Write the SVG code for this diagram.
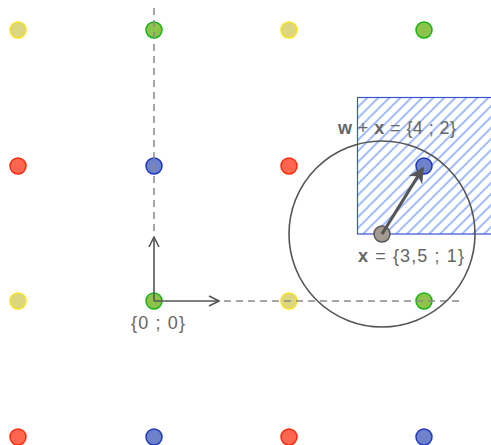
<svg xmlns="http://www.w3.org/2000/svg" width="491" height="445" viewBox="0 0 491 445">
<style>
.y{fill:#dcd681;stroke:#f7e21e;stroke-width:1.5}
.g{fill:#8ec24a;stroke:#14b414;stroke-width:1.5}
.r{fill:#ff6650;stroke:#ff2a0a;stroke-width:1.5}
.b{fill:#6d82c8;stroke:#1f37bd;stroke-width:1.5}
.dash{stroke:#8a8a8a;stroke-width:1.5;stroke-dasharray:7 5;fill:none}
.ax{stroke:#555;stroke-width:1.6;fill:none}
text{font-family:"Liberation Sans","DejaVu Sans",sans-serif;font-size:18px;fill:#666}
</style>
<defs>
<pattern id="hatch" patternUnits="userSpaceOnUse" x="357" y="97" width="11" height="11">
<path d="M-2,13 L13,-2 M-8,8 L8,-8 M3,19 L19,3" stroke="#a3bdff" stroke-width="2" fill="none"/>
</pattern>
<marker id="open" viewBox="0 0 12 12" refX="11" refY="6" markerWidth="12" markerHeight="12" markerUnits="userSpaceOnUse" orient="auto">
<path d="M1,1 L11,6 L1,11" fill="none" stroke="#555" stroke-width="1.6"/>
</marker>
<marker id="solid" viewBox="0 0 10 10" refX="9" refY="5" markerWidth="5" markerHeight="5" orient="auto">
<path d="M0,0 L10,5 L0,10 L3,5 Z" fill="#555"/>
</marker>
</defs>
<g id="region">
<rect x="357.5" y="97.5" width="140" height="136.5" fill="url(#hatch)" stroke="#3a55d0" stroke-width="1.2"/>
</g>
<g id="dots">
<circle id="p00" class="y" cx="18" cy="30" r="8"/>
<circle id="p10" class="g" cx="154" cy="30" r="8"/>
<circle id="p20" class="y" cx="289" cy="30" r="8"/>
<circle id="p30" class="g" cx="424" cy="30" r="8"/>
<circle id="p01" class="r" cx="18" cy="166" r="8"/>
<circle id="p11" class="b" cx="154" cy="166" r="8"/>
<circle id="p21" class="r" cx="289" cy="166" r="8"/>
<circle id="p31" class="b" cx="424" cy="166" r="8"/>
<circle id="p02" class="y" cx="18" cy="301" r="8"/>
<circle id="p12" class="g" cx="154" cy="301" r="8"/>
<circle id="p22" class="y" cx="289" cy="301" r="8"/>
<circle id="p32" class="g" cx="424" cy="301" r="8"/>
<circle id="p03" class="r" cx="18" cy="437" r="8"/>
<circle id="p13" class="b" cx="154" cy="437" r="8"/>
<circle id="p23" class="r" cx="289" cy="437" r="8"/>
<circle id="p33" class="b" cx="424" cy="437" r="8"/>
</g>
<g id="connectors">
<line class="dash" x1="154" y1="8" x2="154" y2="236"/>
<line class="dash" x1="224" y1="301" x2="460" y2="301"/>
<circle cx="382" cy="234" r="93" fill="none" stroke="#555" stroke-width="1.6"/>
<line class="ax" x1="154" y1="301" x2="154" y2="237" marker-end="url(#open)"/>
<line class="ax" x1="154" y1="301" x2="219" y2="301" marker-end="url(#open)"/>
</g>
<g id="x">
<circle cx="382" cy="234" r="8" fill="#a39a92" stroke="#555" stroke-width="1.5"/>
<line x1="382" y1="234" x2="423" y2="168" stroke="#555" stroke-width="3.2" marker-end="url(#solid)"/>
</g>
<g id="labels">
<text x="158" y="329" text-anchor="middle" textLength="54">{0 ; 0}</text>
<text x="411" y="262" text-anchor="middle" textLength="106"><tspan font-weight="bold">x</tspan> = {3,5 ; 1}</text>
<text x="397" y="134" text-anchor="middle" textLength="118"><tspan font-weight="bold">w</tspan> + <tspan font-weight="bold">x</tspan> = {4 ; 2}</text>
</g>
</svg>
